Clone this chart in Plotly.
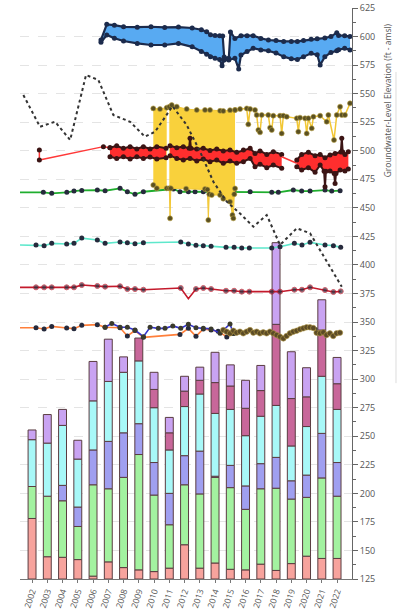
import plotly.graph_objects as go

years = list(range(2002, 2023))

# stacked bar segment tops (axis units), bottom -> top
salmon_top = [178, 144.5, 144, 142, 127.5, 140, 135, 133, 131.5, 134.5, 155, 134.5, 139, 133.5, 133, 138, 132.5, 138.5, 145, 143, 143]
green_top = [206, 197.5, 193.5, 171, 207.5, 204, 214, 234, 198.5, 172.5, 207.5, 199.5, 214, 205, 186, 204, 204.5, 195, 196.5, 213.5, 197.5]
peri_top = [206, 197.5, 207, 188, 238, 245.5, 253, 261, 227, 200, 233, 237, 215, 224.5, 206.5, 226, 231.5, 211, 216, 252.5, 227]
cyan_top = [247, 244, 259.5, 230, 281, 298, 306, 316, 275, 238, 276, 287, 270, 273.5, 250.5, 267.5, 277, 241.5, 258.5, 302.5, 273.5]
mauve_top = [247, 244, 259.5, 230, 281, 298, 306, 336, 291, 253, 289.5, 299, 297, 294, 274.5, 290, 348, 283, 284.5, 343, 296]
lav_top = [255.5, 269, 273.5, 246.5, 315.5, 335, 319.5, 336, 306, 266.5, 302.5, 310.5, 323.5, 312.5, 299, 312, 419.5, 324, 310, 369.5, 319]
bar_floor = 125

# blue well (high-frequency): upper / lower envelopes
blue_up_t = [2007.02, 2007.40, 2007.90, 2008.50, 2009.40, 2010.30, 2011.20, 2012.10, 2013.00, 2013.60, 2013.95, 2014.20, 2014.50, 2014.80, 2015.00, 2015.10, 2015.40, 2015.51, 2015.80, 2016.20, 2016.60, 2017.00, 2017.50, 2018.00, 2018.50, 2019.00, 2019.50, 2019.90, 2020.30, 2020.80, 2021.20, 2021.70, 2022.10, 2022.48, 2022.60, 2023.00, 2023.35]
blue_up_v = [597, 610.7, 610, 608.5, 608.2, 608.6, 608, 608.3, 607.5, 606, 604.3, 601.5, 601, 600.8, 600.5, 582, 581, 604, 598.4, 600.8, 600.8, 600.8, 598.4, 597, 596.5, 595.7, 595.7, 595.7, 596.5, 597.6, 598, 598.7, 600, 603.4, 601, 600.8, 600]
blue_lo_t = [2007.02, 2007.40, 2007.90, 2008.50, 2009.40, 2010.30, 2011.20, 2012.10, 2013.00, 2013.60, 2013.95, 2014.20, 2014.50, 2014.80, 2014.96, 2015.10, 2015.40, 2015.80, 2016.05, 2016.20, 2016.60, 2017.00, 2017.50, 2018.00, 2018.50, 2019.00, 2019.50, 2019.90, 2020.30, 2020.80, 2021.20, 2021.39, 2021.70, 2022.10, 2022.48, 2022.60, 2023.00, 2023.35]
blue_lo_v = [595, 601.4, 598.5, 596.1, 594, 592.6, 592.6, 594, 591, 587, 584.5, 582.4, 581, 580, 574.5, 579.5, 579.5, 581, 571.6, 583.8, 586.8, 589.7, 588.3, 587.5, 585.5, 582.4, 580.5, 580, 582.4, 585.3, 584, 575.1, 582.4, 586, 587.5, 588.5, 589.7, 588.3]

# red well
red_link1_t = [2002.98, 2002.98, 2007.18, 2007.61]
red_link1_v = [500.6, 491.9, 503.6, 502.7]
red1_up_t = [2007.61, 2008.05, 2008.49, 2008.93, 2009.37, 2009.80, 2010.24, 2010.68, 2011.29]
red1_up_v = [502.7, 504.4, 502.1, 503.6, 501.5, 503.6, 501.5, 503.6, 502.1]
red1_lo_t = [2007.61, 2008.05, 2008.49, 2008.93, 2009.37, 2009.80, 2010.24, 2010.68, 2011.29]
red1_lo_v = [494.8, 493.3, 494.8, 492.8, 494.8, 493.3, 494.5, 492.8, 493.9]
red2_up_t = [2011.55, 2011.99, 2012.42, 2012.80, 2012.86, 2012.92, 2013.30, 2013.73, 2014.17, 2014.61, 2015.04, 2015.48, 2015.92, 2016.36, 2016.80, 2017.12, 2017.45, 2017.89, 2018.32, 2018.87]
red2_up_v = [504.4, 502.7, 503.6, 502.1, 510.9, 502.1, 501.5, 502.1, 500.3, 501.5, 499.8, 500.6, 498.6, 500.6, 502.1, 497.7, 499.8, 496.8, 499.2, 496.8]
red2_lo_t = [2011.55, 2011.99, 2012.42, 2012.86, 2013.30, 2013.73, 2014.17, 2014.61, 2015.04, 2015.48, 2015.92, 2016.36, 2016.80, 2017.12, 2017.45, 2017.89, 2018.32, 2018.87]
red2_lo_v = [495.7, 493.3, 491.9, 493.3, 491, 492.8, 490.4, 491.9, 489, 491, 489, 490.4, 493.3, 486, 488.1, 485.2, 487.5, 484.6]
red_link2_t = [2018.87, 2019.86]
red_link2_v = [494.8, 489]
red3_up_t = [2019.86, 2020.18, 2020.62, 2021.06, 2021.39, 2021.71, 2022.04, 2022.37, 2022.75, 2022.81, 2022.87, 2023.02, 2023.24]
red3_up_v = [491.9, 496.8, 498.6, 495.7, 496.8, 493.9, 496.3, 497.7, 499, 510.9, 499, 496.8, 499.2]
red3_lo_t = [2019.86, 2020.18, 2020.62, 2021.06, 2021.39, 2021.65, 2021.71, 2021.77, 2022.04, 2022.31, 2022.37, 2022.43, 2022.70, 2023.02, 2023.24]
red3_lo_v = [486, 483.1, 485.2, 481.1, 487.5, 482, 468.5, 482, 482.2, 480, 471.4, 480, 483.1, 482.2, 484]

# yellow well
yel1_up_t = [2010.45, 2010.89, 2011.33]
yel1_up_v = [537.1, 536.5, 537.7]
yel1_lo_t = [2010.45, 2010.68, 2011.33]
yel1_lo_v = [470, 467.1, 467.1]
yel2_up_t = [2011.50, 2011.66, 2011.99, 2012.64, 2013.30, 2013.84, 2014.17, 2014.83, 2015.04, 2015.48, 2015.81]
yel2_up_v = [538.5, 540, 538.6, 536.5, 535.7, 535.7, 535.7, 535, 534.8, 535.5, 535.7]
yel2_lo_t = [2011.50, 2011.55, 2011.60, 2012.60, 2013.84, 2014.00, 2014.06, 2014.12, 2014.28, 2014.83, 2015.04, 2015.48, 2015.64, 2015.70, 2015.76, 2015.81]
yel2_lo_v = [467.1, 440.8, 467.1, 466.8, 466.5, 466, 439.3, 462, 461.2, 461.2, 458, 455.4, 443.7, 440.8, 462, 467]
yel3_t = [2015.81, 2016.14, 2016.58, 2016.68, 2016.80, 2017.12, 2017.23, 2017.34, 2017.45, 2017.56, 2017.99, 2018.11, 2018.22, 2018.32, 2018.76, 2018.87, 2018.98, 2019.20, 2019.86, 2019.96, 2020.07, 2020.40, 2020.51, 2020.62, 2020.84, 2020.95, 2021.39, 2021.82, 2021.93, 2022.30, 2022.48, 2022.70, 2022.81, 2023.02, 2023.35]
yel3_v = [535.7, 536.5, 537.1, 523.1, 536.5, 535.7, 531.3, 518.2, 516.1, 531.3, 531.3, 520.2, 518.2, 530.7, 530.7, 515.2, 530.7, 529.8, 528.4, 516.7, 529, 528.4, 515.2, 528.4, 519.6, 529.8, 530.7, 525.4, 531.3, 509.4, 531.3, 538.6, 531.3, 531.3, 541.5]

# dotted well
dot_t = [2001.93, 2003.02, 2004.01, 2005.00, 2006.04, 2006.85, 2007.83, 2008.93, 2009.90, 2010.57, 2011.71, 2012.64, 2013.52, 2014.39, 2015.27, 2016.14, 2017.01, 2017.89, 2018.76, 2019.86, 2020.73, 2021.71, 2022.81]
dot_v = [548.8, 521, 525.4, 509.4, 566.3, 562, 531.3, 525.4, 512.3, 516.7, 539, 522.5, 499.2, 472.9, 455.4, 445, 433.5, 443.7, 417.5, 432.1, 427.7, 405.8, 380.9]

# green well
green_t = [2001.5, 2003.24, 2003.79, 2004.78, 2005.25, 2005.76, 2006.78, 2007.29, 2008.27, 2008.75, 2009.25, 2009.80, 2011.77, 2012.20, 2012.75, 2013.19, 2013.73, 2014.28, 2014.83, 2015.27, 2015.70, 2016.80, 2018.22, 2018.65, 2019.63, 2020.18, 2020.73, 2021.71, 2022.15, 2022.70]
green_v = [463.6, 463.6, 462.7, 463.6, 464.7, 465.3, 465.6, 465, 467.1, 464.1, 461.8, 464.1, 466.5, 464.1, 464.1, 464.1, 464.1, 464.1, 463.6, 463.6, 464.1, 464.1, 463.6, 463.6, 465.6, 464.7, 464.7, 465.6, 464.7, 465]

# teal and maroon wells (same survey dates)
survey_t = [2001.5, 2002.76, 2003.29, 2003.79, 2004.77, 2005.25, 2005.76, 2006.78, 2007.29, 2008.27, 2008.75, 2009.25, 2009.80, 2012.25, 2012.75, 2013.25, 2013.73, 2014.24, 2015.22, 2015.75, 2016.25, 2016.75, 2018.22, 2018.76, 2019.70, 2020.20, 2020.73, 2021.71, 2022.26, 2022.74]
teal_v = [417.5, 417.5, 416.9, 418.9, 418.3, 418.9, 423.5, 421.8, 418.9, 420.1, 419.5, 418.6, 419.5, 420.1, 418.3, 417.2, 416.9, 416.3, 415.4, 415.4, 414.8, 414.9, 414.8, 416, 418.9, 417.5, 419.8, 417.5, 416.9, 415.4]
maroon_t = [2001.5, 2002.76, 2003.29, 2003.79, 2004.77, 2005.25, 2005.76, 2006.78, 2007.29, 2008.27, 2008.75, 2009.25, 2009.80, 2012.25, 2012.75, 2013.25, 2013.73, 2014.24, 2015.22, 2015.75, 2016.25, 2016.75, 2018.22, 2018.76, 2019.70, 2020.20, 2020.73, 2021.71, 2022.26, 2022.74]
maroon_v = [380.4, 380.4, 380.4, 380.4, 380.4, 380.4, 382.4, 381.6, 381, 381.3, 378.9, 378.9, 378.3, 379.8, 370.5, 378.9, 379.8, 378.9, 377.4, 377.4, 376.6, 376.6, 376.6, 376.6, 378.3, 378.3, 380.4, 378, 376.3, 376.9]

# shallow wells near 340-345
orange_t = [2001.5, 2002.76, 2003.29, 2003.79, 2004.77, 2005.25, 2005.76, 2006.78, 2007.29, 2008.27, 2008.75, 2009.25, 2009.80, 2012.20, 2012.75, 2013.25, 2013.73, 2014.24, 2014.70, 2015.27, 2015.70]
orange_v = [345, 345.0, 343.9, 346.2, 344.8, 344.2, 347.1, 347.7, 345.4, 345, 337.8, 342.5, 336.6, 339.2, 344.5, 337.5, 344, 343, 342, 337, 340]
navy_t = [2007.29, 2007.73, 2008.27, 2008.75, 2009.25, 2009.80, 2010.24, 2010.78, 2011.22, 2011.73, 2012.25, 2012.75, 2013.25, 2013.73, 2014.24, 2014.83, 2015.48, 2015.70]
navy_v = [345.4, 348.8, 345.4, 345.4, 343, 337.2, 345.4, 344.5, 344.5, 346.6, 344.5, 348, 345, 344.5, 344, 340.1, 348.3, 340]
navy2_t = [2021.10, 2021.40, 2021.80, 2022.20]
navy2_v = [344, 340, 339.5, 338]
olive_t = [2015.04, 2015.26, 2015.48, 2015.70, 2015.91, 2016.13, 2016.35, 2016.57, 2016.79, 2017.01, 2017.23, 2017.44, 2017.66, 2017.88, 2018.10, 2018.32, 2018.54, 2018.76, 2018.98, 2019.19, 2019.41, 2019.63, 2019.85, 2020.07, 2020.29, 2020.50, 2020.72, 2020.94, 2021.16, 2021.38, 2021.60, 2021.81, 2022.03, 2022.25, 2022.47, 2022.69]
olive_v = [343, 341.6, 340.1, 342.4, 340.7, 341.6, 340.1, 341.6, 343, 340.7, 341.6, 340.1, 341, 340.1, 341.6, 340.1, 338.6, 337.2, 335.7, 337.8, 340.1, 341.6, 342.4, 343.6, 344.5, 345.4, 345.4, 344.8, 340.7, 340.1, 341, 338.6, 340.1, 337.8, 340.1, 340.7]

y_title = "Groundwater-Level Elevation (ft - amsl)"

fig = go.Figure()

# ---- bars ----
seg_tops = [salmon_top, green_top, peri_top, cyan_top, mauve_top, lav_top]
seg_cols = ["#f7a39d", "#a3f2a0", "#a09ff0", "#a8f8f8", "#c8679a", "#c9a3f2"]
bar_x = [y + 0.5 for y in years]
prev = [bar_floor] * len(years)
for tops, col in zip(seg_tops, seg_cols):
    h = [t - p for t, p in zip(tops, prev)]
    fig.add_trace(go.Bar(
        x=bar_x, y=[v if v > 0 else None for v in h], base=prev, width=0.52,
        marker=dict(color=col, line=dict(color="#5a3c40", width=1)),
        showlegend=False, hoverinfo="skip"))
    prev = list(tops)

DARK = "#262a3c"


def line(t, v, color, width=1.5, msize=5, mcolor=DARK, dash=None, mode="lines+markers"):
    fig.add_trace(go.Scatter(
        x=t, y=v, mode=mode, line=dict(color=color, width=width, dash=dash),
        marker=dict(size=msize, color=mcolor), showlegend=False, hoverinfo="skip"))


def band(tl, vl, tu, vu, fill, edge, ew, msize, mcolor, mline=None):
    mk = dict(size=msize, color=mcolor)
    if mline:
        mk["line"] = dict(color=mline, width=0.6)
    fig.add_trace(go.Scatter(x=tl, y=vl, mode="lines+markers",
                             line=dict(color=edge, width=ew), marker=mk,
                             showlegend=False, hoverinfo="skip"))
    fig.add_trace(go.Scatter(x=tu, y=vu, mode="lines+markers", fill="tonexty",
                             fillcolor=fill, line=dict(color=edge, width=ew), marker=mk,
                             showlegend=False, hoverinfo="skip"))


# ---- low / mid wells ----
line(orange_t, orange_v, "#ff7f3a", 1.6, 5, DARK)
line(navy_t, navy_v, "#3434cc", 1.6, 5, "#3a3a2c")
line(navy2_t, navy2_v, "#3434cc", 1.4, 4, "#3a3a2c")
fig.add_trace(go.Scatter(x=olive_t, y=olive_v, mode="lines+markers",
                         line=dict(color="#e8a23a", width=1.5),
                         marker=dict(size=5.5, color="#5b4b26", line=dict(color="#b59a45", width=0.6)),
                         showlegend=False, hoverinfo="skip"))
maroon_sizes = [5] * len(maroon_t)
maroon_sizes[maroon_t.index(2012.75)] = 0
fig.add_trace(go.Scatter(x=maroon_t, y=maroon_v, mode="lines+markers",
                         line=dict(color="#c41a2c", width=1.6),
                         marker=dict(size=maroon_sizes, color=DARK),
                         showlegend=False, hoverinfo="skip"))
line(survey_t, teal_v, "#5ee8cc", 1.6, 5, DARK)
line(green_t, green_v, "#1fae2e", 1.8, 5, DARK)

# ---- yellow well ----
band(yel1_lo_t, yel1_lo_v, yel1_up_t, yel1_up_v, "#f9d13c", "#f2c735", 1, 5, "#5a5022", "#b8a040")
band(yel2_lo_t, yel2_lo_v, yel2_up_t, yel2_up_v, "#f9d13c", "#f2c735", 1, 5, "#5a5022", "#b8a040")
fig.add_trace(go.Scatter(x=yel3_t, y=yel3_v, mode="lines+markers",
                         line=dict(color="#f2c735", width=1.5),
                         marker=dict(size=5, color="#5a5022", line=dict(color="#b8a040", width=0.6)),
                         showlegend=False, hoverinfo="skip"))

# ---- red well ----
line(red_link1_t, red_link1_v, "#ff3838", 1.5, 5, "#3b1414")
band(red1_lo_t, red1_lo_v, red1_up_t, red1_up_v, "#ff2e2e", "#3b1414", 2, 5, "#3b1414")
band(red2_lo_t, red2_lo_v, red2_up_t, red2_up_v, "#ff2e2e", "#3b1414", 2, 5, "#3b1414")
line(red_link2_t, red_link2_v, "#ff3838", 1.5, 0, "#3b1414", mode="lines")
band(red3_lo_t, red3_lo_v, red3_up_t, red3_up_v, "#ff2e2e", "#3b1414", 2, 5, "#3b1414")

# ---- blue well ----
band(blue_lo_t, blue_lo_v, blue_up_t, blue_up_v, "#58aaf2", "#1c2b4c", 2.2, 5, "#1c2b4c")

# ---- dotted well ----
fig.add_trace(go.Scatter(x=dot_t, y=dot_v, mode="lines",
                         line=dict(color="#333333", width=2, dash="dot"),
                         showlegend=False, hoverinfo="skip"))

fig.update_layout(
    width=400, height=609,
    margin=dict(l=20, r=48, t=8, b=30, autoexpand=False),
    paper_bgcolor="white", plot_bgcolor="white",
    barmode="overlay",
    font=dict(family="Open Sans", size=9, color="#555555"),
    xaxis=dict(range=[2001.71, 2023.48], tickvals=bar_x, ticktext=[str(y) for y in years],
               tickangle=-72, showgrid=False, zeroline=False, showline=True, automargin=False,
               linecolor="#777777", linewidth=1, ticks="outside", ticklen=3,
               tickcolor="#777777", tickfont=dict(size=8.5, color="#555555")),
    yaxis=dict(range=[125, 625], side="right", dtick=25, tick0=125, automargin=False,
               showgrid=True, gridcolor="#e4e4e4", griddash="dash", gridwidth=1,
               zeroline=False, showline=True, linecolor="#666666", linewidth=1,
               ticks="outside", ticklen=5, tickcolor="#666666",
               minor=dict(dtick=12.5, ticks="outside", ticklen=3, tickcolor="#666666", showgrid=False),
               tickfont=dict(size=9, color="#555555")),
    annotations=[dict(text=y_title, xref="paper", yref="paper", x=1.108, y=0.838,
                      textangle=-90, showarrow=False, xanchor="center", yanchor="middle",
                      font=dict(family="Open Sans", size=8.5, color="#555555"))],
    shapes=[dict(type="line", xref="paper", yref="paper", x0=1.1325, x1=1.1325,
                 y0=0.343, y1=0.888, line=dict(color="#dddddd", width=1))],
)

fig.write_html("out.html", config={"displayModeBar": False},
               post_script="document.body.style.margin='0';document.body.style.overflow='hidden';")
